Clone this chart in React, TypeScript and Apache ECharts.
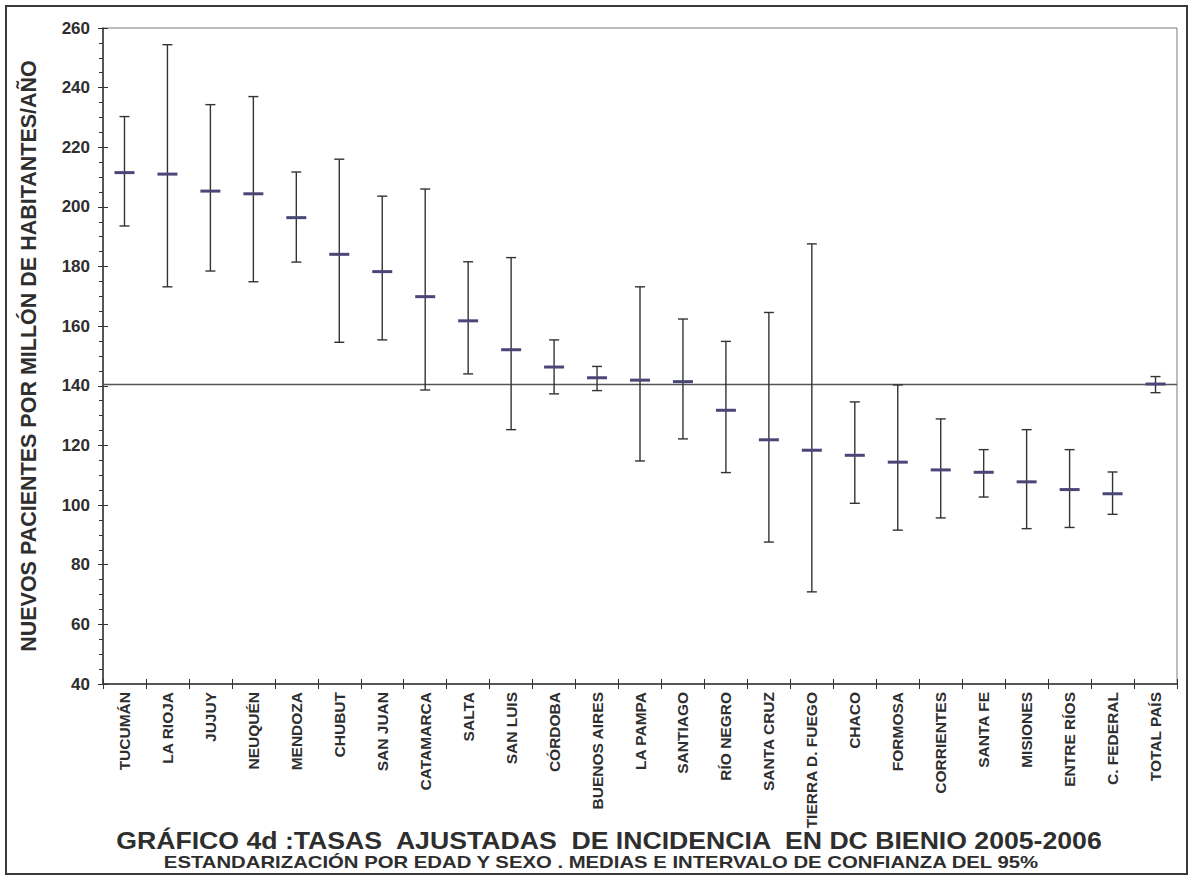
import React, { useEffect, useRef } from "react";
import * as echarts from "echarts";

const categories = [
  "TUCUMÁN", "LA RIOJA", "JUJUY", "NEUQUÉN", "MENDOZA", "CHUBUT", "SAN JUAN",
  "CATAMARCA", "SALTA", "SAN LUIS", "CÓRDOBA", "BUENOS AIRES", "LA PAMPA",
  "SANTIAGO", "RÍO NEGRO", "SANTA CRUZ", "TIERRA D. FUEGO", "CHACO", "FORMOSA",
  "CORRIENTES", "SANTA FE", "MISIONES", "ENTRE RÍOS", "C. FEDERAL", "TOTAL PAÍS",
];

const means = [
  211.5, 211.0, 205.3, 204.4, 196.4, 184.1, 178.3, 169.9, 161.8, 152.1, 146.3,
  142.7, 141.9, 141.4, 131.8, 121.9, 118.4, 116.7, 114.4, 111.8, 111.0, 107.8,
  105.2, 103.8, 140.6,
];

const lowerBounds = [
  193.6, 173.2, 178.5, 174.9, 181.5, 154.6, 155.4, 138.6, 144.0, 125.3, 137.3,
  138.4, 114.8, 122.2, 110.9, 87.6, 70.9, 100.6, 91.6, 95.7, 102.7, 92.1, 92.5,
  96.9, 137.7,
];

const upperBounds = [
  230.3, 254.4, 234.3, 237.0, 211.7, 216.0, 203.6, 206.0, 181.6, 183.0, 155.4,
  146.5, 173.2, 162.4, 154.9, 164.6, 187.6, 134.6, 140.3, 128.9, 118.6, 125.3,
  118.6, 111.1, 143.1,
];

const countryRate = 140.6;

const yMin = 40;
const yMax = 260;
const yInterval = 20;

const titleText = "GRÁFICO 4d :TASAS  AJUSTADAS  DE INCIDENCIA  EN DC BIENIO 2005-2006";
const subtitleText = "ESTANDARIZACIÓN POR EDAD Y SEXO . MEDIAS E INTERVALO DE CONFIANZA DEL 95%";
const yAxisTitle = "NUEVOS PACIENTES POR MILLÓN DE HABITANTES/AÑO";

const FONT = "'Liberation Sans', Arial, Helvetica, sans-serif";
const TEXT = "#2e2e2e";

export default function App() {
  const ref = useRef<HTMLDivElement | null>(null);

  useEffect(() => {
    if (!ref.current) return;
    const chart = echarts.init(ref.current, undefined, { renderer: "svg" });

    const ciData = categories.map((_, i) => [i, lowerBounds[i], upperBounds[i]]);
    const meanData = categories.map((_, i) => [i, means[i]]);

    const option: any = {
      animation: false,
      backgroundColor: "#ffffff",
      grid: {
        left: 103,
        right: 15,
        top: 28,
        bottom: 204,
        show: true,
        borderColor: "#7a7a7a",
        borderWidth: 1,
        backgroundColor: "transparent",
      },
      xAxis: [
        {
          type: "category",
          data: categories,
          boundaryGap: true,
          position: "bottom",
          axisLine: { show: true, lineStyle: { color: "#333", width: 1.5 } },
          axisTick: { show: true, length: 5, interval: 0, lineStyle: { color: "#333", width: 1 } },
          axisLabel: {
            interval: 0,
            rotate: 90,
            margin: 8,
            fontSize: 15.5,
            fontWeight: "bold",
            fontFamily: FONT,
            color: TEXT,
          },
          splitLine: { show: false },
        },
        {
          type: "category",
          data: categories,
          boundaryGap: true,
          position: "bottom",
          axisLine: { show: false },
          axisTick: { show: true, inside: true, length: 5, interval: 0, lineStyle: { color: "#333", width: 1 } },
          axisLabel: { show: false },
          splitLine: { show: false },
        },
      ],
      yAxis: [
        {
          type: "value",
          min: yMin,
          max: yMax,
          interval: yInterval,
          position: "left",
          axisLine: { show: true, lineStyle: { color: "#333", width: 1.5 } },
          axisTick: { show: true, length: 5, lineStyle: { color: "#333", width: 1 } },
          minorTick: { show: true, splitNumber: 4, length: 4, lineStyle: { color: "#333", width: 1 } },
          splitLine: { show: false },
          minorSplitLine: { show: false },
          axisLabel: {
            fontSize: 17,
            fontWeight: "bold",
            fontFamily: FONT,
            color: TEXT,
            margin: 13,
          },
          name: yAxisTitle,
          nameLocation: "middle",
          nameGap: 63,
          nameRotate: 90,
          nameTextStyle: {
            fontSize: 21.5,
            fontWeight: "bold",
            fontFamily: FONT,
            color: TEXT,
          },
        },
        {
          type: "value",
          min: yMin,
          max: yMax,
          interval: yInterval,
          position: "left",
          axisLine: { show: false },
          axisTick: { show: true, inside: true, length: 5, lineStyle: { color: "#333", width: 1 } },
          axisLabel: { show: false },
          splitLine: { show: false },
        },
      ],
      series: [
        {
          type: "custom",
          name: "ic95",
          xAxisIndex: 0,
          yAxisIndex: 0,
          data: ciData,
          z: 2,
          renderItem: (params: any, api: any) => {
            const x = api.value(0);
            const lo = api.coord([x, api.value(1)]);
            const hi = api.coord([x, api.value(2)]);
            const half = 5;
            const style = { stroke: "#333", lineWidth: 1.4 };
            return {
              type: "group",
              children: [
                { type: "line", shape: { x1: lo[0], y1: lo[1], x2: hi[0], y2: hi[1] }, style },
                { type: "line", shape: { x1: lo[0] - half, y1: lo[1], x2: lo[0] + half, y2: lo[1] }, style },
                { type: "line", shape: { x1: hi[0] - half, y1: hi[1], x2: hi[0] + half, y2: hi[1] }, style },
              ],
            };
          },
        },
        {
          type: "custom",
          name: "media",
          xAxisIndex: 0,
          yAxisIndex: 0,
          data: meanData,
          z: 3,
          renderItem: (params: any, api: any) => {
            const p = api.coord([api.value(0), api.value(1)]);
            return {
              type: "line",
              shape: { x1: p[0] - 10, y1: p[1], x2: p[0] + 10, y2: p[1] },
              style: { stroke: "#4a4778", lineWidth: 3 },
            };
          },
          markLine: {
            silent: true,
            symbol: "none",
            label: { show: false },
            lineStyle: { color: "#555", width: 1.3, type: "solid" },
            data: [{ yAxis: countryRate }],
            z: 1,
          },
        },
      ],
      graphic: [
        {
          type: "rect",
          shape: { x: 6, y: 6, width: 1181, height: 868 },
          style: { fill: "none", stroke: "#3a3a3a", lineWidth: 2 },
          silent: true,
        },
        {
          type: "text",
          x: 609,
          y: 840,
          scaleX: 1.11,
          style: {
            text: titleText,
            font: `bold 24px ${FONT}`,
            fill: TEXT,
            align: "center",
            verticalAlign: "middle",
          },
        },
        {
          type: "text",
          x: 601,
          y: 862,
          scaleX: 1.27,
          style: {
            text: subtitleText,
            font: `bold 16px ${FONT}`,
            fill: TEXT,
            align: "center",
            verticalAlign: "middle",
          },
        },
      ],
    };

    chart.setOption(option);
    return () => chart.dispose();
  }, []);

  return (
    <div
      ref={ref}
      style={{ position: "absolute", left: 0, top: 0, width: 1192, height: 888 }}
    />
  );
}
